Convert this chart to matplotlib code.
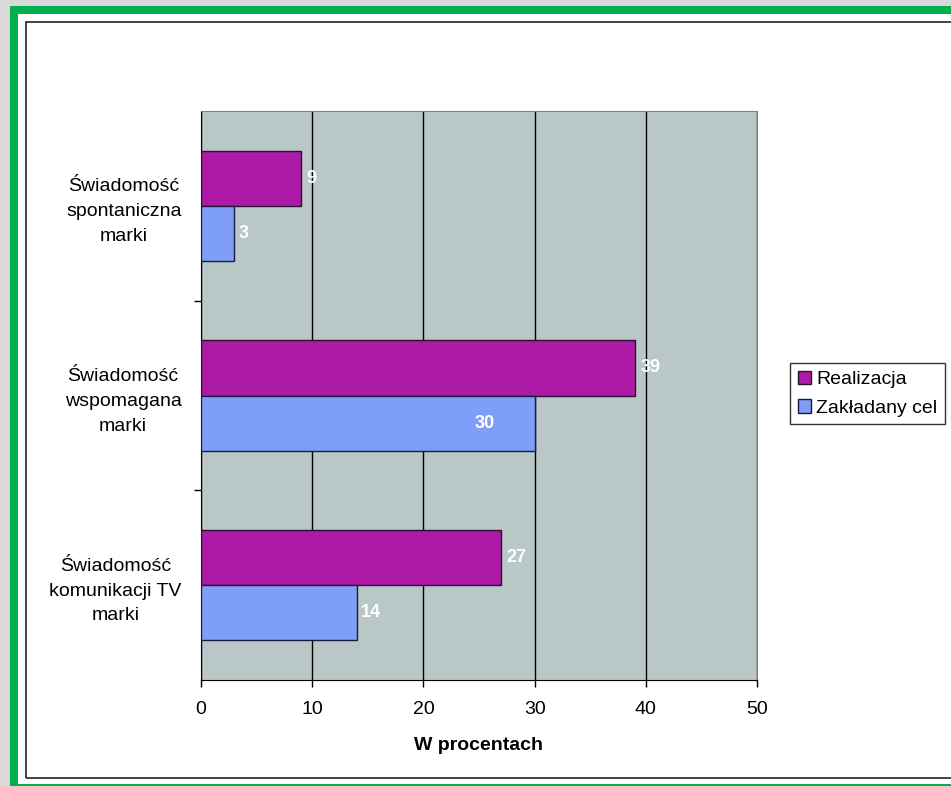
import matplotlib
matplotlib.use("Agg")
import numpy as np
from matplotlib import pyplot as plt
from matplotlib.patches import Rectangle

# categories (top to bottom) and series
kategorie = ['Świadomość\nspontaniczna\nmarki',
             'Świadomość\nwspomagana\nmarki',
             'Świadomość\nkomunikacji TV\nmarki']
realizacja = [9, 39, 27]
cel = [3, 30, 14]
serie = ['Realizacja', 'Zakładany cel']

plt.rcParams['font.family'] = ['Liberation Sans', 'DejaVu Sans']

W, H = 951, 786
fig = plt.figure(figsize=(W / 100, H / 100), dpi=100, facecolor='#d9d9d9')

# green frame, white card, thin black border
fig.add_artist(Rectangle((10 / W, 0), 1, 1 - 6 / H, transform=fig.transFigure,
                         facecolor='#00b050', edgecolor='none', zorder=-3))
fig.add_artist(Rectangle((18 / W, 2 / H), 1, 1 - 16 / H, transform=fig.transFigure,
                         facecolor='white', edgecolor='none', zorder=-2))
fig.add_artist(Rectangle((26 / W, 8 / H), 1, 1 - 30 / H, transform=fig.transFigure,
                         facecolor='none', edgecolor='#222222', linewidth=1.2, zorder=-1))

ax = fig.add_axes([201 / W, (H - 680) / H, (757 - 201) / W, (680 - 111) / H])
ax.set_facecolor('#bac7c7')

y = np.arange(len(kategorie))
h = 0.29
b1 = ax.barh(y - h / 2, realizacja, height=h, color='#ad1aa6', edgecolor='#2a1030',
             linewidth=1, label=serie[0], zorder=3)
b2 = ax.barh(y + h / 2, cel, height=h, color='#7f9ef7', edgecolor='#1a1a40',
             linewidth=1, label=serie[1], zorder=3)

# value labels
lab = dict(va='center', color='white', fontweight='bold', fontsize=13, zorder=4,
           textcoords='offset points')
for yy, v in zip(y - h / 2, realizacja):
    ax.annotate(str(v), (v, yy), xytext=(4, 0), ha='left', **lab)
for yy, v in zip(y + h / 2, cel):
    if v == max(cel):
        ax.annotate(str(v), (v, yy), xytext=(-36, 0), ha='center', **lab)
    else:
        ax.annotate(str(v), (v, yy), xytext=(3, 0), ha='left', **lab)

ax.set_xlim(0, 50)
ax.set_ylim(2.5, -0.5)
ax.set_xticks(np.arange(0, 51, 10))
ax.xaxis.grid(True, color='black', linewidth=1, zorder=1)
ax.set_axisbelow(True)
ax.tick_params(axis='x', direction='out', length=5, width=1, pad=10, labelsize=14)

ax.set_yticks([0.5, 1.5])
ax.set_yticklabels([])
ax.set_yticks(y, minor=True)
ax.set_yticklabels(kategorie, minor=True, fontsize=14, linespacing=1.6)
ax.tick_params(axis='y', which='major', direction='out', length=5, width=1)
ax.tick_params(axis='y', which='minor', length=0, pad=14)
for t in ax.get_yticklabels(minor=True):
    t.set_multialignment('center')

for s in ['left', 'bottom']:
    ax.spines[s].set_color('black')
for s in ['top', 'right']:
    ax.spines[s].set_color('#7f7f7f')

ax.set_xlabel('W procentach', fontsize=14, fontweight='bold', labelpad=14)

leg = fig.legend(handles=[b1, b2], loc='upper left',
                 bbox_to_anchor=(790 / W, 1 - 363 / H), fontsize=14,
                 frameon=True, fancybox=False, edgecolor='black',
                 handlelength=0.7, handleheight=0.7, handletextpad=0.25,
                 borderpad=0.4, labelspacing=0.55, borderaxespad=0)
leg.get_frame().set_linewidth(1)

fig.savefig('out.png', dpi=100, facecolor=fig.get_facecolor())
